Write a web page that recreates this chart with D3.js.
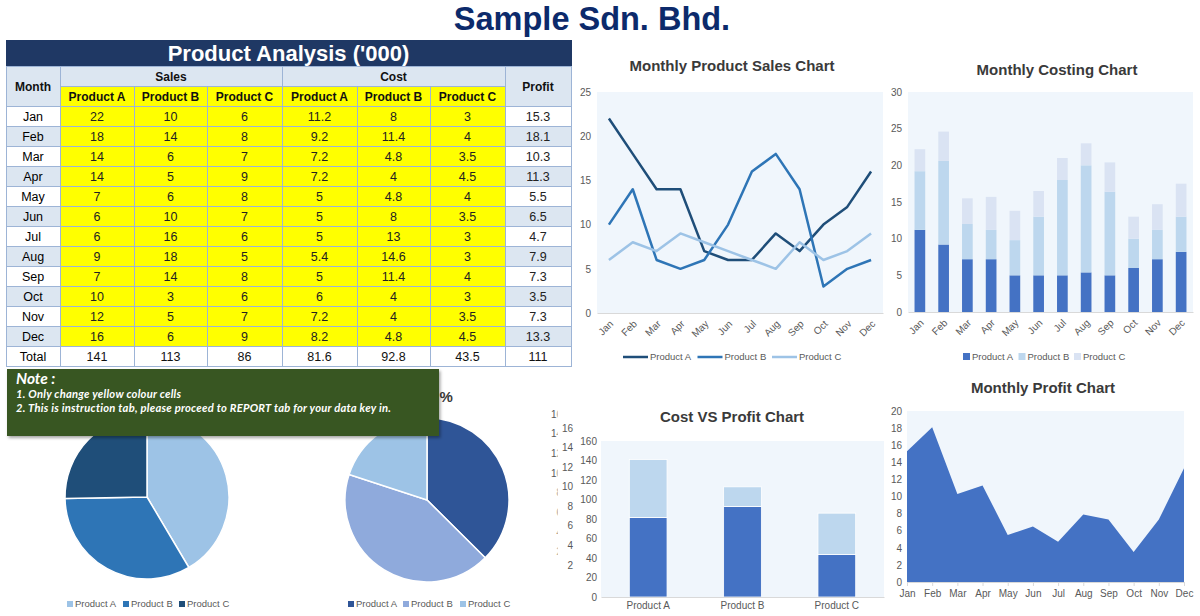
<!DOCTYPE html>
<html><head><meta charset="utf-8">
<script src="https://cdn.jsdelivr.net/npm/d3@7"></script>
<style>body{margin:0;background:#fff}svg{display:block}</style>
</head><body>
<script>
// ---------- DATA ----------
const months = ["Jan","Feb","Mar","Apr","May","Jun","Jul","Aug","Sep","Oct","Nov","Dec"];
const products = ["Product A","Product B","Product C"];
const salesA = [22,18,14,14,7,6,6,9,7,10,12,16];
const salesB = [10,14,6,5,6,10,16,18,14,3,5,6];
const salesC = [6,8,7,9,8,7,6,5,8,6,7,9];
const costA = [11.2,9.2,7.2,7.2,5,5,5,5.4,5,6,7.2,8.2];
const costB = [8,11.4,4.8,4,4.8,8,13,14.6,11.4,4,4,4.8];
const costC = [3,4,3.5,4.5,4,3.5,3,3,4,3,3.5,4.5];
const profit = [15.3,18.1,10.3,11.3,5.5,6.5,4.7,7.9,7.3,3.5,7.3,13.3];
const totalRow = [141,113,86,81.6,92.8,43.5,111];
const salesShare = [141,113,86];
const costShare = [81.6,92.8,43.5];
const cvpCost = [81.6,92.8,43.5];
const cvpProfit = [59.4,20.2,42.5];
const salesTicks = [0,5,10,15,20,25];
const costTicks = [0,5,10,15,20,25,30];
const cvpTicks = [0,20,40,60,80,100,120,140,160];
const profitTicks = [0,2,4,6,8,10,12,14,16,18,20];
const ghostTicks = [16,14,12,10,8,6,4,2];
const noteLines = ["Note :","1. Only change yellow colour cells","2. This is instruction tab, please proceed to REPORT tab for your data key in."];

// ---------- SETUP ----------
const FONT = "'Liberation Sans', Arial, Helvetica, sans-serif";
const PLOTBG = "#f0f6fc", AXC = "#595959", TITLEC = "#3a3a3a", GRIDC = "#d9d9d9";
const svg = d3.select("body").append("svg").attr("width",1200).attr("height",616)
  .style("font-family",FONT);
svg.append("rect").attr("width",1200).attr("height",616).attr("fill","#fff");

function styleAxis(g, size){
  g.select(".domain").remove();
  g.selectAll("text").attr("font-size",size||10).attr("fill",AXC).attr("font-family",FONT);
}
function chartTitle(x,y,t){
  svg.append("text").attr("x",x).attr("y",y).attr("text-anchor","middle")
    .attr("font-size",15).attr("font-weight","bold").attr("fill",TITLEC).text(t);
}

// ---------- MAIN TITLE ----------
svg.append("text").attr("x",592).attr("y",30).attr("text-anchor","middle")
  .attr("font-size",32.5).attr("font-weight","bold").attr("fill","#0c2a6b").text("Sample Sdn. Bhd.");

// ---------- TABLE ----------
const T = svg.append("g");
const colX = [6,60,134,207,282,357,430,505,571];
const BORDER = "#9db4d6", HDR = "#dce6f1", YEL = "#ffff00";
function cell(x0,y0,x1,y1,fill,txt,o={}){
  T.append("rect").attr("x",x0+0.5).attr("y",y0+0.5).attr("width",x1-x0).attr("height",y1-y0)
    .attr("fill",fill).attr("stroke",o.stroke||BORDER).attr("stroke-width",1);
  if(txt!==undefined) T.append("text").attr("x",(x0+x1)/2).attr("y",(y0+y1)/2+0.5).attr("dy","0.36em")
    .attr("text-anchor","middle").attr("font-size",o.size||12.5).attr("font-weight",o.bold?"bold":"normal")
    .attr("fill",o.color||"#111").text(txt);
}
cell(colX[0],40,colX[8],66,"#1f3864","Product Analysis ('000)",{size:22,bold:true,color:"#fff",stroke:"#1f3864"});
cell(colX[0],66,colX[1],106,HDR,"Month",{bold:true,size:12});
cell(colX[1],66,colX[4],86,HDR,"Sales",{bold:true,size:12});
cell(colX[4],66,colX[7],86,HDR,"Cost",{bold:true,size:12});
cell(colX[7],66,colX[8],106,HDR,"Profit",{bold:true,size:12});
for(let k=0;k<6;k++) cell(colX[k+1],86,colX[k+2],106,YEL,products[k%3],{bold:true,size:12});
const rowY = d3.scaleLinear().domain([0,1]).range([106,126]);
months.forEach((m,i)=>{
  const y0 = rowY(i), y1 = rowY(i+1);
  const alt = i%2===1 ? HDR : "#fff";
  cell(colX[0],y0,colX[1],y1,alt,m,{color:"#000"});
  [salesA,salesB,salesC,costA,costB,costC].forEach((arr,k)=>cell(colX[k+1],y0,colX[k+2],y1,YEL,arr[i],{color:"#222"}));
  cell(colX[7],y0,colX[8],y1,alt,profit[i],{color:"#222"});
});
cell(colX[0],rowY(12),colX[1],rowY(13),"#fff","Total",{color:"#000"});
totalRow.forEach((v,k)=>cell(colX[k+1],rowY(12),colX[k+2],rowY(13),"#fff",v,{color:"#111"}));

// ---------- MONTHLY PRODUCT SALES (line) ----------
{
  const x = d3.scalePoint().domain(months).range([597,883]).padding(0.5);
  const y = d3.scaleLinear().domain([0,25]).range([313,92]);
  const [x0,x1] = x.range(), [yb,yt] = y.range();
  chartTitle(732,71,"Monthly Product Sales Chart");
  svg.append("rect").attr("x",x0).attr("y",yt).attr("width",x1-x0).attr("height",yb-yt).attr("fill",PLOTBG);
  svg.append("g").attr("transform",`translate(${x0},0)`)
    .call(d3.axisLeft(y).tickValues(salesTicks).tickSize(0).tickPadding(6)).call(styleAxis);
  const xa = svg.append("g").attr("transform",`translate(0,${yb})`).call(d3.axisBottom(x).tickSize(0));
  xa.select(".domain").attr("stroke",GRIDC);
  xa.selectAll("text").attr("font-size",10).attr("fill",AXC).attr("y",0).attr("x",0).attr("dy","0.35em")
    .attr("text-anchor","end").attr("transform","translate(2,9) rotate(-45)");
  const colors = ["#1f4e79","#2e75b6","#9dc3e6"];
  const line = d3.line().x((d,i)=>x(months[i])).y(d=>y(d));
  [salesA,salesB,salesC].forEach((s,k)=>svg.append("path").attr("d",line(s)).attr("fill","none")
    .attr("stroke",colors[k]).attr("stroke-width",2.5).attr("stroke-linejoin","round"));
  const lg = d3.scaleLinear().domain([0,1]).range([623,697.5]);
  products.forEach((p,k)=>{
    svg.append("line").attr("x1",lg(k)).attr("x2",lg(k)+25).attr("y1",357).attr("y2",357)
      .attr("stroke",colors[k]).attr("stroke-width",2.5);
    svg.append("text").attr("x",lg(k)+27).attr("y",357).attr("dy","0.35em").attr("font-size",9.5).attr("fill",AXC).text(p);
  });
}

// ---------- MONTHLY COSTING (stacked bars) ----------
{
  const x = d3.scaleBand().domain(months).range([908,1193]).paddingInner(0.55).paddingOuter(0.275);
  const y = d3.scaleLinear().domain([0,30]).range([312,92]);
  const [x0,x1] = x.range(), [yb,yt] = y.range();
  chartTitle(1057,75,"Monthly Costing Chart");
  svg.append("rect").attr("x",x0).attr("y",yt).attr("width",x1-x0).attr("height",yb-yt).attr("fill",PLOTBG);
  svg.append("g").attr("transform",`translate(${x0},0)`)
    .call(d3.axisLeft(y).tickValues(costTicks).tickSize(0).tickPadding(6)).call(styleAxis);
  const rows = months.map((m,i)=>({month:m,A:costA[i],B:costB[i],C:costC[i]}));
  const series = d3.stack().keys(["A","B","C"])(rows);
  const colors = ["#4472c4","#bdd7ee","#dae3f3"];
  series.forEach((s,k)=>svg.append("g").selectAll("rect").data(s).join("rect")
    .attr("x",d=>x(d.data.month)).attr("width",x.bandwidth())
    .attr("y",d=>y(d[1])).attr("height",d=>y(d[0])-y(d[1])).attr("fill",colors[k]));
  const xa = svg.append("g").attr("transform",`translate(0,${yb})`).call(d3.axisBottom(x).tickSize(0));
  xa.select(".domain").attr("stroke",GRIDC);
  xa.selectAll("text").attr("font-size",10).attr("fill",AXC).attr("y",0).attr("x",0).attr("dy","0.35em")
    .attr("text-anchor","end").attr("transform","translate(2,9) rotate(-45)");
  const lg = d3.scaleLinear().domain([0,1]).range([963,1018.5]);
  products.forEach((p,k)=>{
    svg.append("rect").attr("x",lg(k)).attr("y",353).attr("width",7).attr("height",7).attr("fill",colors[k]);
    svg.append("text").attr("x",lg(k)+9).attr("y",357).attr("dy","0.35em").attr("font-size",9.5).attr("fill",AXC).text(p);
  });
}

// ---------- PIES ----------
{
  const pie = d3.pie().sort(null).value(d=>d);
  const arc = d3.arc().innerRadius(0).outerRadius(82);
  const defs = [
    {cx:147, cy:497, data:salesShare, colors:["#9dc3e6","#2e75b6","#1f4e79"], title:null, lx:[67,123,179]},
    {cx:427, cy:500, data:costShare, colors:["#2f5597","#8faadc","#9dc3e6"], title:"Cost %", lx:[348,403,460]}
  ];
  defs.forEach(p=>{
    if(p.title) chartTitle(p.cx+0.5,402,p.title);
    svg.append("g").attr("transform",`translate(${p.cx},${p.cy})`).selectAll("path").data(pie(p.data)).join("path")
      .attr("d",arc).attr("fill",(d,i)=>p.colors[i]).attr("stroke","#fff").attr("stroke-width",1.5);
    products.forEach((t,k)=>{
      svg.append("rect").attr("x",p.lx[k]).attr("y",601).attr("width",6).attr("height",6).attr("fill",p.colors[k]);
      svg.append("text").attr("x",p.lx[k]+8).attr("y",604).attr("dy","0.35em").attr("font-size",9.5).attr("fill",AXC).text(t);
    });
  });
}

// ---------- NOTE BOX ----------
{
  const f = svg.append("defs").append("filter").attr("id","sh").attr("x","-5%").attr("y","-10%").attr("width","110%").attr("height","130%");
  f.append("feDropShadow").attr("dx",1.5).attr("dy",2).attr("stdDeviation",1.5).attr("flood-color","#000").attr("flood-opacity",0.35);
  svg.append("rect").attr("x",7).attr("y",369).attr("width",432).attr("height",67).attr("fill","#375623").attr("filter","url(#sh)");
  const ny = [384,398,412], ns = [15.5,11.2,11.2], ls = [0,0.25,0.25];
  noteLines.forEach((t,i)=>svg.append("text").attr("x",16).attr("y",ny[i]).attr("font-family","Lato, 'Open Sans', sans-serif")
    .attr("font-style","italic").attr("font-weight","bold").attr("font-size",ns[i]).attr("letter-spacing",ls[i])
    .attr("fill","#fff").text(t));
}

// ---------- GHOST AXES (overlapped charts) ----------
{
  svg.append("defs").append("clipPath").attr("id","gclip").append("rect").attr("x",540).attr("y",395).attr("width",17.5).attr("height",180);
  const g1y = d3.scaleLinear().domain([0,16]).range([571.7,414]);
  svg.append("g").attr("clip-path","url(#gclip)").selectAll("text").data(ghostTicks).join("text")
    .attr("x",562).attr("y",d=>g1y(d)).attr("dy","0.35em").attr("text-anchor","end").attr("font-size",10).attr("fill",AXC).text(d=>d);
  const g2y = d3.scaleLinear().domain([0,16]).range([584.6,428]);
  svg.append("g").selectAll("text").data(ghostTicks).join("text")
    .attr("x",573).attr("y",d=>g2y(d)).attr("dy","0.35em").attr("text-anchor","end").attr("font-size",10).attr("fill",AXC).text(d=>d);
}

// ---------- COST VS PROFIT ----------
{
  const x = d3.scaleBand().domain(products).range([601,884]).paddingInner(0.6).paddingOuter(0.3);
  const y = d3.scaleLinear().domain([0,160]).range([597,441]);
  const [x0,x1] = x.range(), [yb,yt] = y.range();
  chartTitle(732,422,"Cost VS Profit Chart");
  svg.append("rect").attr("x",x0).attr("y",yt).attr("width",x1-x0).attr("height",yb-yt).attr("fill",PLOTBG);
  svg.append("g").attr("transform",`translate(${x0},0)`)
    .call(d3.axisLeft(y).tickValues(cvpTicks).tickSize(0).tickPadding(4)).call(styleAxis);
  const rows = products.map((p,i)=>({p, cost:cvpCost[i], profit:cvpProfit[i]}));
  const series = d3.stack().keys(["cost","profit"])(rows);
  const colors = ["#4472c4","#bdd7ee"];
  series.forEach((s,k)=>svg.append("g").selectAll("rect").data(s).join("rect")
    .attr("x",d=>x(d.data.p)).attr("width",x.bandwidth())
    .attr("y",d=>y(d[1])).attr("height",d=>y(d[0])-y(d[1])).attr("fill",colors[k])
    .attr("stroke","#fff").attr("stroke-width",0.8));
  const xa = svg.append("g").attr("transform",`translate(0,${yb})`).call(d3.axisBottom(x).tickSize(0).tickPadding(5));
  xa.select(".domain").attr("stroke",GRIDC);
  xa.selectAll("text").attr("font-size",10).attr("fill",AXC);
}

// ---------- MONTHLY PROFIT (area) ----------
{
  const x = d3.scalePoint().domain(months).range([907,1184]).padding(0);
  const y = d3.scaleLinear().domain([0,20]).range([582,411]);
  const [x0,x1] = x.range(), [yb,yt] = y.range();
  chartTitle(1043,393,"Monthly Profit Chart");
  svg.append("rect").attr("x",x0).attr("y",yt).attr("width",x1-x0).attr("height",yb-yt).attr("fill",PLOTBG);
  svg.append("g").attr("transform",`translate(${x0},0)`)
    .call(d3.axisLeft(y).tickValues(profitTicks).tickSize(0).tickPadding(5)).call(styleAxis);
  const area = d3.area().x((d,i)=>x(months[i])).y0(yb).y1(d=>y(d));
  svg.append("path").attr("d",area(profit)).attr("fill","#4472c4");
  const xa = svg.append("g").attr("transform",`translate(0,${yb})`).call(d3.axisBottom(x).tickSize(4).tickPadding(4));
  xa.select(".domain").attr("stroke",GRIDC);
  xa.selectAll("line").attr("stroke",GRIDC);
  xa.selectAll("text").attr("font-size",10).attr("fill",AXC);
}
</script>
</body></html>
